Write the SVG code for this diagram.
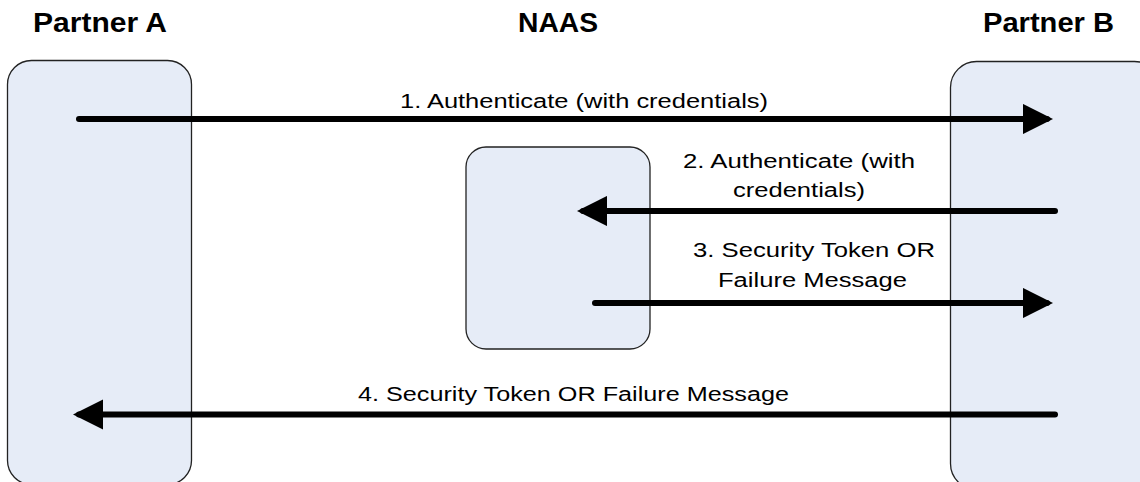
<svg xmlns="http://www.w3.org/2000/svg" width="1140" height="482" viewBox="0 0 1140 482">
<defs>
<style>
.box{fill:#e6ecf7;stroke:#222;stroke-width:1.3}
.hdr{font-family:"Liberation Sans",Arial,sans-serif;font-weight:bold;font-size:27px;fill:#000}
.lbl{font-family:"Liberation Sans",Arial,sans-serif;font-size:20px;fill:#000}
.conn{stroke:#000;stroke-width:6;stroke-linecap:round;fill:none}
</style>
<marker id="ah" viewBox="0 0 10 10" refX="8" refY="5" markerWidth="5.1" markerHeight="5.1" markerUnits="strokeWidth" orient="auto"><path d="M0,0L10,5L0,10Z" fill="#000"/></marker>
</defs>
<g id="partnerA"><rect class="box" x="7.5" y="60.5" width="184" height="424" rx="24"/><text class="hdr" x="33" y="32" textLength="134" lengthAdjust="spacingAndGlyphs">Partner A</text></g>
<g id="naas"><rect class="box" x="466" y="147" width="184" height="202" rx="20"/><text class="hdr" x="518" y="32" textLength="80" lengthAdjust="spacingAndGlyphs">NAAS</text></g>
<g id="partnerB"><rect class="box" x="950.5" y="61.5" width="210" height="428" rx="26"/><text class="hdr" x="983" y="32" textLength="131" lengthAdjust="spacingAndGlyphs">Partner B</text></g>
<g id="connectors">
<line class="conn" x1="79" y1="119" x2="1047" y2="119" marker-end="url(#ah)"/>
<line class="conn" x1="1055" y1="211" x2="583" y2="211" marker-end="url(#ah)"/>
<line class="conn" x1="595" y1="303" x2="1047" y2="303" marker-end="url(#ah)"/>
<line class="conn" x1="1055" y1="414.5" x2="79" y2="414.5" marker-end="url(#ah)"/>
<text class="lbl" x="400" y="108" textLength="368" lengthAdjust="spacingAndGlyphs">1. Authenticate (with credentials)</text>
<text class="lbl" x="683" y="168" textLength="232" lengthAdjust="spacingAndGlyphs">2. Authenticate (with</text>
<text class="lbl" x="733" y="197" textLength="132" lengthAdjust="spacingAndGlyphs">credentials)</text>
<text class="lbl" x="693" y="257" textLength="242" lengthAdjust="spacingAndGlyphs">3. Security Token OR</text>
<text class="lbl" x="718" y="287" textLength="189" lengthAdjust="spacingAndGlyphs">Failure Message</text>
<text class="lbl" x="358" y="401" textLength="431" lengthAdjust="spacingAndGlyphs">4. Security Token OR Failure Message</text>
</g>
</svg>
